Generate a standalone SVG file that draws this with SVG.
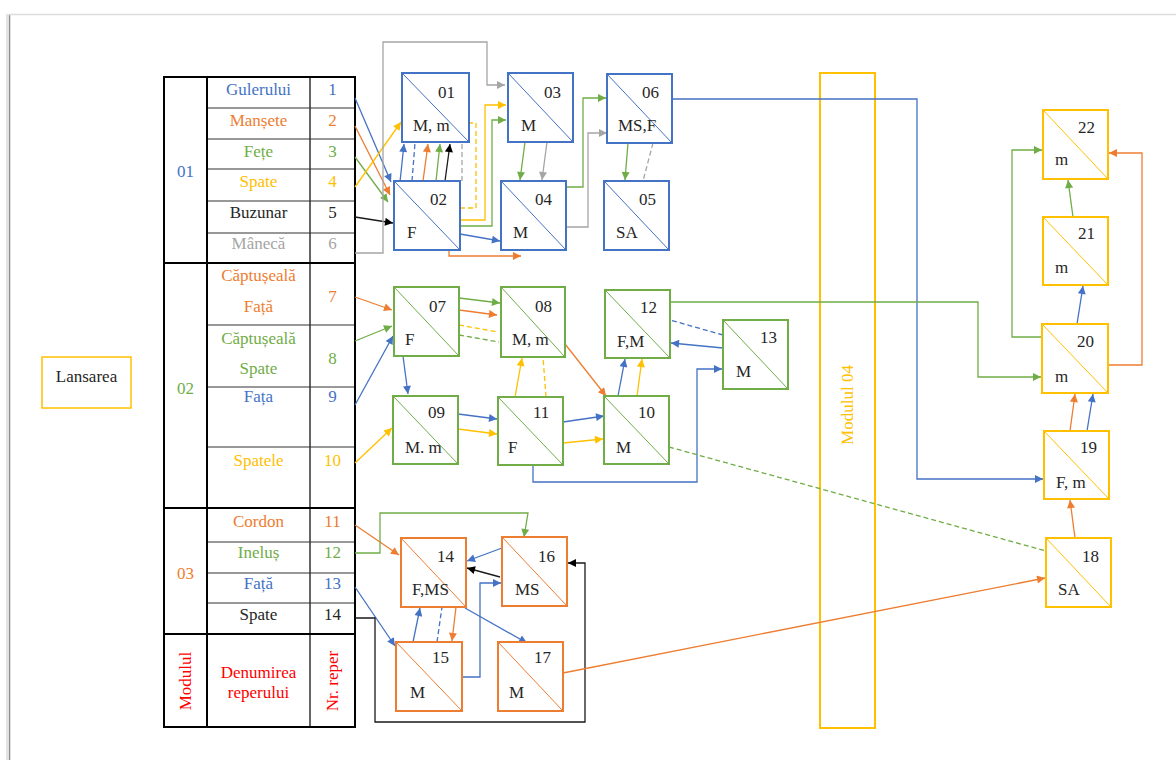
<svg xmlns="http://www.w3.org/2000/svg" width="1176" height="760" viewBox="0 0 1176 760" font-family="'Liberation Serif', 'DejaVu Serif', serif" font-size="17">
<style>
text{font-family:'Liberation Serif','DejaVu Serif',serif;font-size:17px}
.tb{fill:#4472C4}.to{fill:#ED7D31}.tg{fill:#70AD47}.ty{fill:#FFC000}.tk{fill:#262626}.tgr{fill:#A5A5A5}.tr{fill:#FF0000}
.c text{text-anchor:middle}
.n rect{fill:#fff;stroke-width:2}
.n line{stroke-width:1}
.n text{fill:#262626}
.B rect,.B line{stroke:#4472C4}
.G rect,.G line{stroke:#70AD47}
.O rect,.O line{stroke:#ED7D31}
.Y rect,.Y line{stroke:#FFC000}
#connectors path{fill:none;stroke-width:1.3}
.sb{stroke:#4472C4}.so{stroke:#ED7D31}.sg{stroke:#70AD47}.sy{stroke:#FFC000}.sk{stroke:#1a1a1a}.sgr{stroke:#A5A5A5}
.d{stroke-dasharray:5 3}
.ab{marker-end:url(#ab)}.ao{marker-end:url(#ao)}.ag{marker-end:url(#ag)}.ay{marker-end:url(#ay)}.ak{marker-end:url(#ak)}.agr{marker-end:url(#agr)}
.tl{stroke:#000;stroke-width:2;fill:none}
.ti{stroke:#333;stroke-width:1.2}
</style>
<defs>
<marker id="ab" viewBox="0 0 10 10" refX="10" refY="5" markerWidth="10" markerHeight="8" markerUnits="userSpaceOnUse" orient="auto"><path d="M0,0 L10,5 L0,10 z" fill="#4472C4"/></marker>
<marker id="ao" viewBox="0 0 10 10" refX="10" refY="5" markerWidth="10" markerHeight="8" markerUnits="userSpaceOnUse" orient="auto"><path d="M0,0 L10,5 L0,10 z" fill="#ED7D31"/></marker>
<marker id="ag" viewBox="0 0 10 10" refX="10" refY="5" markerWidth="10" markerHeight="8" markerUnits="userSpaceOnUse" orient="auto"><path d="M0,0 L10,5 L0,10 z" fill="#70AD47"/></marker>
<marker id="ay" viewBox="0 0 10 10" refX="10" refY="5" markerWidth="10" markerHeight="8" markerUnits="userSpaceOnUse" orient="auto"><path d="M0,0 L10,5 L0,10 z" fill="#FFC000"/></marker>
<marker id="ak" viewBox="0 0 10 10" refX="10" refY="5" markerWidth="10" markerHeight="8" markerUnits="userSpaceOnUse" orient="auto"><path d="M0,0 L10,5 L0,10 z" fill="#000"/></marker>
<marker id="agr" viewBox="0 0 10 10" refX="10" refY="5" markerWidth="10" markerHeight="8" markerUnits="userSpaceOnUse" orient="auto"><path d="M0,0 L10,5 L0,10 z" fill="#A5A5A5"/></marker>
</defs>
<rect width="1176" height="760" fill="#fff"/>
<!-- frame -->
<line x1="7" y1="14" x2="7" y2="760" stroke="#e2e2e2" stroke-width="2"/>
<line x1="9.5" y1="14" x2="9.5" y2="760" stroke="#8c8c8c" stroke-width="1.5"/>
<line x1="9" y1="14.5" x2="1176" y2="14.5" stroke="#dcdcdc" stroke-width="1.5"/>

<!-- table -->
<g id="table">
<line class="ti" x1="207" y1="108" x2="355" y2="108"/>
<line class="ti" x1="207" y1="139" x2="355" y2="139"/>
<line class="ti" x1="207" y1="169" x2="355" y2="169"/>
<line class="ti" x1="207" y1="201" x2="355" y2="201"/>
<line class="ti" x1="207" y1="233" x2="355" y2="233"/>
<line class="ti" x1="207" y1="325" x2="355" y2="325"/>
<line class="ti" x1="207" y1="387" x2="355" y2="387"/>
<line class="ti" x1="207" y1="447" x2="355" y2="447"/>
<line class="ti" x1="207" y1="542" x2="355" y2="542"/>
<line class="ti" x1="207" y1="573" x2="355" y2="573"/>
<line class="ti" x1="207" y1="603" x2="355" y2="603"/>
<line x1="310" y1="77" x2="310" y2="727" stroke="#333" stroke-width="1.5"/>
<line class="tl" x1="164" y1="263" x2="355" y2="263"/>
<line class="tl" x1="164" y1="508" x2="355" y2="508"/>
<line class="tl" x1="164" y1="634" x2="355" y2="634"/>
<line class="tl" x1="207" y1="77" x2="207" y2="727"/>
<rect class="tl" x="164" y="77" width="191" height="650"/>
<g class="c">
<text class="tb" x="185.5" y="177">01</text>
<text class="tg" x="185.5" y="394">02</text>
<text class="to" x="185.5" y="579">03</text>
<text class="tb" x="258.5" y="95">Gulerului</text><text class="tb" x="332.5" y="95">1</text>
<text class="to" x="258.5" y="126">Manșete</text><text class="to" x="332.5" y="126">2</text>
<text class="tg" x="258.5" y="157">Fețe</text><text class="tg" x="332.5" y="157">3</text>
<text class="ty" x="258.5" y="187">Spate</text><text class="ty" x="332.5" y="187">4</text>
<text class="tk" x="258.5" y="218">Buzunar</text><text class="tk" x="332.5" y="218">5</text>
<text class="tgr" x="258.5" y="249">Mânecă</text><text class="tgr" x="332.5" y="249">6</text>
<text class="to" x="258.5" y="281">Căptușeală</text><text class="to" x="258.5" y="312">Față</text><text class="to" x="332.5" y="302">7</text>
<text class="tg" x="258.5" y="344">Căptușeală</text><text class="tg" x="258.5" y="374">Spate</text><text class="tg" x="332.5" y="364">8</text>
<text class="tb" x="258.5" y="402">Fața</text><text class="tb" x="332.5" y="402">9</text>
<text class="ty" x="258.5" y="466">Spatele</text><text class="ty" x="332.5" y="466">10</text>
<text class="to" x="258.5" y="527">Cordon</text><text class="to" x="332.5" y="527">11</text>
<text class="tg" x="258.5" y="558">Ineluș</text><text class="tg" x="332.5" y="558">12</text>
<text class="tb" x="258.5" y="589">Față</text><text class="tb" x="332.5" y="589">13</text>
<text class="tk" x="258.5" y="620">Spate</text><text class="tk" x="332.5" y="620">14</text>
<text class="tr" x="258.5" y="678">Denumirea</text><text class="tr" x="258.5" y="698">reperului</text>
<text class="tr" transform="translate(191,681) rotate(-90)">Modulul</text>
<text class="tr" transform="translate(338,681) rotate(-90)">Nr. reper</text>
</g>
</g>

<g id="lansarea">
<rect x="42" y="357" width="89" height="51" fill="#fff" stroke="#FFC000" stroke-width="1.5"/>
<text x="86.5" y="382" text-anchor="middle" fill="#262626">Lansarea</text>
</g>

<g id="modulul04">
<rect x="820" y="73" width="55" height="655" fill="none" stroke="#FFC000" stroke-width="2"/>
<text class="ty" text-anchor="middle" transform="translate(853,405) rotate(-90)">Modulul 04</text>
</g>

<g id="connectors">
<path class="sb ab" d="M355,98 L391,182"/>
<path class="so ao" d="M355,126 L390,195"/>
<path class="sg ag" d="M355,157 L388,202"/>
<path class="sy ay" d="M355,187 L401,122"/>
<path class="sk ak" d="M355,217 L393,223"/>
<path class="sgr agr" d="M355,253 H383 V42 H487 V85 H505"/>
<path class="sb ab" d="M400,182 L404,144"/>
<path class="sb d" d="M412,181 L415,143"/>
<path class="so ao" d="M423,181 L428,144"/>
<path class="sg ag" d="M436,181 L440,144"/>
<path class="sk ak" d="M445,181 L450,144"/>
<path class="sgr d" d="M462,181 L462,143"/>
<path class="sy d" d="M460,208 H476 V123 H469"/>
<path class="sy ay" d="M460,220 H485 V105 H506"/>
<path class="sg ag" d="M460,226 H492 V120 H506"/>
<path class="sb ab" d="M460,234 L500,241"/>
<path class="so ao" d="M449,250 V256 H521"/>
<path class="sg ag" d="M525,142 L520,180"/>
<path class="sgr agr" d="M547,142 L542,180"/>
<path class="sg ag" d="M566,187 H583 V98 H606"/>
<path class="sgr agr" d="M566,227 H588 V133 H607"/>
<path class="sg ag" d="M628,143 L625,180"/>
<path class="sgr d" d="M653,143 L643,181"/>
<path class="sb ab" d="M672,99 H917 V479 H1043"/>

<path class="so ao" d="M355,297 L392,310"/>
<path class="sg ag" d="M355,341 L392,326"/>
<path class="sb ab" d="M355,405 L393,336"/>
<path class="sy ay" d="M355,463 L392,428"/>
<path class="sg ag" d="M459,298 L500,303"/>
<path class="so ao" d="M459,310 L497,315"/>
<path class="sy d" d="M459,325 L498,332"/>
<path class="sg d" d="M459,335 L499,342"/>
<path class="sb ab" d="M403,356 L408,394"/>
<path class="sb ab" d="M458,414 L497,419"/>
<path class="sy ay" d="M458,429 L497,434"/>
<path class="sy ay" d="M515,397 L522,358"/>
<path class="sy d" d="M546,397 L543,357"/>
<path class="so ao" d="M565,344 L606,396"/>
<path class="sb ab" d="M563,422 L604,416"/>
<path class="sy ay" d="M563,443 L603,439"/>
<path class="sb ab" d="M533,465 V482 H697 V369 H722"/>
<path class="sb ab" d="M618,396 L625,359"/>
<path class="sy ay" d="M637,396 L642,359"/>
<path class="sb ab" d="M723,348 L671,343"/>
<path class="sb d" d="M723,335 L670,320"/>
<path class="sg ag" d="M670,302 H978 V377 H1041"/>
<path class="sg d" d="M669,447 L1046,551"/>

<path class="so ao" d="M355,525 L399,555"/>
<path class="sg ag" d="M355,553 H380 V513 H528 L524,537"/>
<path class="sb ab" d="M355,587 L395,646"/>
<path class="sk ak" d="M355,618 H375 V722 H585 V563 H568"/>
<path class="sb ab" d="M502,548 L467,561"/>
<path class="sk ak" d="M500,577 L467,568"/>
<path class="sb ab" d="M413,642 L420,608"/>
<path class="sb d" d="M437,642 L442,607"/>
<path class="so ao" d="M456,607 L452,641"/>
<path class="sb ab" d="M462,677 H480 V583 H501"/>
<path class="sb ab" d="M465,608 L527,643"/>
<path class="so ao" d="M563,673 L1045,578"/>

<path class="so ao" d="M1075,538 L1070,500"/>
<path class="so ao" d="M1070,431 L1075,394"/>
<path class="sb ab" d="M1087,431 L1093,394"/>
<path class="sb ab" d="M1077,324 L1083,286"/>
<path class="sg ag" d="M1073,217 L1068,180"/>
<path class="sg ag" d="M1045,337 H1012 V150 H1042"/>
<path class="so ao" d="M1108,365 H1142 V153 H1109"/>
</g>

<g id="n01" class="n B"><rect x="402" y="73" width="67" height="69"/><line x1="402" y1="73" x2="469" y2="142"/><text x="438" y="98">01</text><text x="413" y="131">M, m</text></g>
<g id="n02" class="n B"><rect x="394" y="181" width="66" height="69"/><line x1="394" y1="181" x2="460" y2="250"/><text x="430" y="205">02</text><text x="407" y="238">F</text></g>
<g id="n03" class="n B"><rect x="508" y="73" width="65" height="69"/><line x1="508" y1="73" x2="573" y2="142"/><text x="544" y="98">03</text><text x="521" y="131">M</text></g>
<g id="n04" class="n B"><rect x="501" y="181" width="65" height="69"/><line x1="501" y1="181" x2="566" y2="250"/><text x="535" y="205">04</text><text x="513" y="238">M</text></g>
<g id="n06" class="n B"><rect x="607" y="74" width="65" height="69"/><line x1="607" y1="74" x2="672" y2="143"/><text x="642" y="98">06</text><text x="618" y="131">MS,F</text></g>
<g id="n05" class="n B"><rect x="604" y="181" width="65" height="69"/><line x1="604" y1="181" x2="669" y2="250"/><text x="639" y="205">05</text><text x="616" y="238">SA</text></g>

<g id="n07" class="n G"><rect x="394" y="287" width="65" height="69"/><line x1="394" y1="287" x2="459" y2="356"/><text x="429" y="312">07</text><text x="405" y="345">F</text></g>
<g id="n08" class="n G"><rect x="501" y="287" width="64" height="70"/><line x1="501" y1="287" x2="565" y2="357"/><text x="535" y="312">08</text><text x="512" y="345">M, m</text></g>
<g id="n12" class="n G"><rect x="605" y="290" width="65" height="68"/><line x1="605" y1="290" x2="670" y2="358"/><text x="640" y="313">12</text><text x="617" y="347">F,M</text></g>
<g id="n13" class="n G"><rect x="723" y="320" width="65" height="69"/><line x1="723" y1="320" x2="788" y2="389"/><text x="760" y="343">13</text><text x="736" y="377">M</text></g>
<g id="n09" class="n G"><rect x="393" y="396" width="65" height="68"/><line x1="393" y1="396" x2="458" y2="464"/><text x="428" y="418">09</text><text x="405" y="453">M. m</text></g>
<g id="n11" class="n G"><rect x="498" y="397" width="65" height="68"/><line x1="498" y1="397" x2="563" y2="465"/><text x="533" y="418">11</text><text x="508" y="453">F</text></g>
<g id="n10" class="n G"><rect x="604" y="396" width="65" height="68"/><line x1="604" y1="396" x2="669" y2="464"/><text x="638" y="418">10</text><text x="616" y="453">M</text></g>

<g id="n14" class="n O"><rect x="401" y="538" width="65" height="69"/><line x1="401" y1="538" x2="466" y2="607"/><text x="437" y="562">14</text><text x="412" y="595">F,MS</text></g>
<g id="n16" class="n O"><rect x="502" y="537" width="65" height="69"/><line x1="502" y1="537" x2="567" y2="606"/><text x="538" y="562">16</text><text x="515" y="595">MS</text></g>
<g id="n15" class="n O"><rect x="396" y="642" width="66" height="69"/><line x1="396" y1="642" x2="462" y2="711"/><text x="432" y="663">15</text><text x="410" y="698">M</text></g>
<g id="n17" class="n O"><rect x="498" y="642" width="65" height="69"/><line x1="498" y1="642" x2="563" y2="711"/><text x="534" y="663">17</text><text x="509" y="698">M</text></g>

<g id="n22" class="n Y"><rect x="1043" y="110" width="65" height="69"/><line x1="1043" y1="110" x2="1108" y2="179"/><text x="1078" y="133">22</text><text x="1055" y="165">m</text></g>
<g id="n21" class="n Y"><rect x="1043" y="217" width="65" height="68"/><line x1="1043" y1="217" x2="1108" y2="285"/><text x="1078" y="239">21</text><text x="1055" y="273">m</text></g>
<g id="n20" class="n Y"><rect x="1042" y="324" width="66" height="69"/><line x1="1042" y1="324" x2="1108" y2="393"/><text x="1077" y="347">20</text><text x="1055" y="382">m</text></g>
<g id="n19" class="n Y"><rect x="1044" y="431" width="65" height="68"/><line x1="1044" y1="431" x2="1109" y2="499"/><text x="1080" y="453">19</text><text x="1056" y="488">F, m</text></g>
<g id="n18" class="n Y"><rect x="1046" y="538" width="65" height="69"/><line x1="1046" y1="538" x2="1111" y2="607"/><text x="1082" y="562">18</text><text x="1058" y="595">SA</text></g>
</svg>
